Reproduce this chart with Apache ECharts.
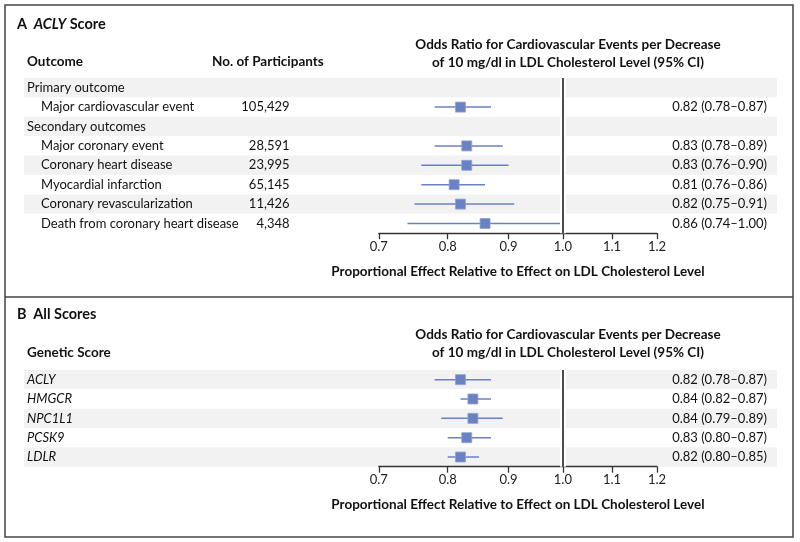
<!DOCTYPE html>
<html><head><meta charset="utf-8">
<script src="https://cdn.jsdelivr.net/npm/echarts@6/dist/echarts.min.js"></script>
<style>html,body{margin:0;padding:0;background:#fff}#c{width:800px;height:542px}</style>
</head><body><div id="c"></div><script>
// ---- data ----
const outcomeLabels = ['Primary outcome','Major cardiovascular event','Secondary outcomes','Major coronary event','Coronary heart disease','Myocardial infarction','Coronary revascularization','Death from coronary heart disease'];
const outcomeIsHeader = [true,false,true,false,false,false,false,false];
const participants = ['','105,429','','28,591','23,995','65,145','11,426','4,348'];
const orA   = [null,0.82,null,0.83,0.83,0.81,0.82,0.86];
const lowA  = [null,0.78,null,0.78,0.76,0.76,0.75,0.74];
const highA = [null,0.87,null,0.89,0.90,0.86,0.91,1.00];
const scoreLabels = ['ACLY','HMGCR','NPC1L1','PCSK9','LDLR'];
const orB   = [0.82,0.84,0.84,0.83,0.82];
const lowB  = [0.78,0.82,0.79,0.80,0.80];
const highB = [0.87,0.87,0.89,0.87,0.85];
const xTicks = [0.7,0.8,0.9,1.0,1.1,1.2];
const refValue = 1.0;
const axisTitle = 'Proportional Effect Relative to Effect on LDL Cholesterol Level';
const plotTitle1 = 'Odds Ratio for Cardiovascular Events per Decrease';
const plotTitle2 = 'of 10 mg/dl in LDL Cholesterol Level (95% CI)';

// ---- styles ----
const FONT = 'Lato';
const FS = 13;
const FSB = 13.5;
const BLUE = '#6a82c3';
const BAND = ['#f2f2f2', '#ffffff'];
const fmt = v => v.toFixed(2);
const ciText = (o,l,h) => o == null ? '' : `${fmt(o)} (${fmt(l)}–${fmt(h)})`;

const chart = echarts.init(document.getElementById('c'), null, {renderer:'canvas'});

function tableX(gi){ return {gridIndex:gi, type:'value', min:0, max:1, show:false}; }
function plotX(gi){
  return {
    gridIndex:gi, type:'log', logBase:10, min:0.7, max:1.2,
    axisLine:{show:true, lineStyle:{color:'#333', width:1.3}},
    axisTick:{show:true, inside:false, length:6, customValues:xTicks, lineStyle:{color:'#333', width:1.3}},
    axisLabel:{show:true, customValues:xTicks, formatter:v=>Number(v).toFixed(1), color:'#222', fontFamily:FONT, fontSize:FS, margin:7},
    splitLine:{show:false}, minorTick:{show:false}, minorSplitLine:{show:false},
    name:axisTitle, nameLocation:'middle', nameGap:31,
    nameTextStyle:{color:'#111', fontFamily:FONT, fontSize:FSB, fontWeight:'bold'}
  };
}
function hiddenY(gi, cats){ return {gridIndex:gi, type:'category', data:cats, inverse:true, show:false, boundaryGap:true}; }

const ciRender = (params, api) => {
  const y = api.value(2);
  const p1 = api.coord([api.value(0), y]);
  const p2 = api.coord([api.value(1), y]);
  return {type:'line', shape:{x1:p1[0], y1:p1[1], x2:p2[0], y2:p2[1]}, style:{stroke:BLUE, lineWidth:1.5}};
};
function ciData(lo, hi){ const d=[]; lo.forEach((l,i)=>{ if(l!=null) d.push([l, hi[i], i]); }); return d; }
function ptData(o){ const d=[]; o.forEach((v,i)=>{ if(v!=null) d.push([v, i]); }); return d; }
function refLines(xi, yi){
  return [
    {type:'scatter', xAxisIndex:xi, yAxisIndex:yi, data:[], z:1, silent:true,
     markLine:{silent:true, symbol:'none', label:{show:false}, lineStyle:{color:'#ffffff', width:6, type:'solid'}, data:[{xAxis:refValue}], animation:false}},
    {type:'scatter', xAxisIndex:xi, yAxisIndex:yi, data:[], z:4, silent:true,
     markLine:{silent:true, symbol:'none', label:{show:false}, lineStyle:{color:'#111', width:1.5, type:'solid'}, data:[{xAxis:refValue}], animation:false}}
  ];
}

const txt = (x, y, text, extra) => ({type:'text', x, y, style:Object.assign({text, fill:'#111', font:`bold ${FSB}px ${FONT}`, verticalAlign:'middle'}, extra||{})});

const option = {
  animation:false,
  grid:[
    {left:24, right:23, top:78, height:155.2},
    {left:378.8, width:278.2, top:78, height:155.2},
    {left:24, right:23, top:370, height:96.7},
    {left:378.8, width:278.2, top:370, height:96.7}
  ],
  xAxis:[tableX(0), plotX(1), tableX(2), plotX(3)],
  yAxis:[
    {gridIndex:0, type:'category', data:outcomeLabels, inverse:true, position:'left',
     axisLine:{show:false}, axisTick:{show:false},
     splitArea:{show:true, areaStyle:{color:BAND}},
     axisLabel:{align:'left', margin:-3, color:'#111', fontFamily:FONT, fontSize:FS,
       formatter:(v,i)=> outcomeIsHeader[i] ? `{h|${v}}` : `{s|${v}}`,
       rich:{h:{fontFamily:FONT, fontSize:FS, color:'#111'}, s:{fontFamily:FONT, fontSize:FS, color:'#111', padding:[0,0,0,14]}}}},
    {gridIndex:0, type:'category', data:outcomeLabels, inverse:true, position:'left',
     axisLine:{show:false}, axisTick:{show:false},
     axisLabel:{align:'right', margin:-265.5, color:'#111', fontFamily:FONT, fontSize:FS, formatter:(v,i)=>participants[i]}},
    {gridIndex:0, type:'category', data:outcomeLabels, inverse:true, position:'right',
     axisLine:{show:false}, axisTick:{show:false},
     axisLabel:{align:'right', margin:-10, color:'#111', fontFamily:FONT, fontSize:FS, formatter:(v,i)=>ciText(orA[i],lowA[i],highA[i])}},
    hiddenY(1, outcomeLabels),
    {gridIndex:2, type:'category', data:scoreLabels, inverse:true, position:'left',
     axisLine:{show:false}, axisTick:{show:false},
     splitArea:{show:true, areaStyle:{color:BAND}},
     axisLabel:{align:'left', margin:-3, color:'#111', fontFamily:FONT, fontSize:FS, fontStyle:'italic'}},
    {gridIndex:2, type:'category', data:scoreLabels, inverse:true, position:'right',
     axisLine:{show:false}, axisTick:{show:false},
     axisLabel:{align:'right', margin:-10, color:'#111', fontFamily:FONT, fontSize:FS, formatter:(v,i)=>ciText(orB[i],lowB[i],highB[i])}},
    hiddenY(3, scoreLabels)
  ],
  series:[
    ...refLines(1,3),
    {type:'custom', xAxisIndex:1, yAxisIndex:3, renderItem:ciRender, data:ciData(lowA,highA), encode:{x:[0,1], y:2}, z:3},
    {type:'scatter', xAxisIndex:1, yAxisIndex:3, symbol:'rect', symbolSize:10, data:ptData(orA),
     itemStyle:{color:BLUE, borderColor:'#8fa2d6', borderWidth:0.8, opacity:1}, z:5},
    ...refLines(3,6),
    {type:'custom', xAxisIndex:3, yAxisIndex:6, renderItem:ciRender, data:ciData(lowB,highB), encode:{x:[0,1], y:2}, z:3},
    {type:'scatter', xAxisIndex:3, yAxisIndex:6, symbol:'rect', symbolSize:10, data:ptData(orB),
     itemStyle:{color:BLUE, borderColor:'#8fa2d6', borderWidth:0.8, opacity:1}, z:5}
  ],
  graphic:[
    {type:'rect', shape:{x:5, y:5, width:788, height:532}, style:{fill:null, stroke:'#444', lineWidth:1.5}, silent:true},
    {type:'line', shape:{x1:5, y1:297, x2:793, y2:297}, style:{stroke:'#444', lineWidth:1.5}, silent:true},
    {type:'text', x:17, y:24, style:{text:'{b|A}  {bi|ACLY} {b|Score}', verticalAlign:'middle',
      rich:{b:{font:`bold 14.5px ${FONT}`, fill:'#111'}, bi:{font:`italic bold 14.5px ${FONT}`, fill:'#111'}}}},
    txt(27, 62, 'Outcome'),
    txt(212, 62, 'No. of Participants'),
    txt(568, 45, plotTitle1, {align:'center'}),
    txt(568, 63, plotTitle2, {align:'center'}),
    {type:'text', x:17, y:314, style:{text:'{b|B}  {b|All Scores}', verticalAlign:'middle',
      rich:{b:{font:`bold 14.5px ${FONT}`, fill:'#111'}}}},
    txt(27, 353, 'Genetic Score'),
    txt(568, 335, plotTitle1, {align:'center'}),
    txt(568, 353, plotTitle2, {align:'center'})
  ]
};
chart.setOption(option);
</script></body></html>
